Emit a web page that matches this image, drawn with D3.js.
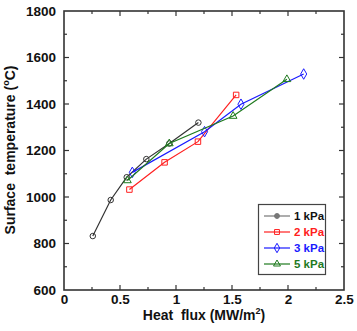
<!DOCTYPE html>
<html>
<head>
<meta charset="utf-8">
<script src="https://cdn.jsdelivr.net/npm/d3@7"></script>
<style>
body { margin: 0; background: #fff; }
text { font-family: "Liberation Sans", Arial, sans-serif; font-weight: bold; white-space: pre; }
</style>
</head>
<body>
<script>
// series data
var names = ["1 kPa", "2 kPa", "3 kPa", "5 kPa"];
var colors = ["#333333", "#ff2020", "#1a1aff", "#1f7a1f"];
var symbols = ["circle", "square", "diamond", "triangle"];
var flux1 = [0.257, 0.417, 0.56, 0.735, 0.94, 1.20];
var temp1 = [832, 987, 1085, 1163, 1230, 1320];
var flux2 = [0.584, 0.898, 1.196, 1.537];
var temp2 = [1032, 1149, 1238, 1439];
var flux3 = [0.61, 1.255, 1.58, 2.14];
var temp3 = [1106, 1281, 1399, 1529];
var flux5 = [0.566, 0.94, 1.51, 1.99];
var temp5 = [1071, 1230, 1348, 1506];
var xTicks = [0, 0.5, 1, 1.5, 2, 2.5];
var yTicks = [600, 800, 1000, 1200, 1400, 1600, 1800];

var fluxes = [flux1, flux2, flux3, flux5];
var temps = [temp1, temp2, temp3, temp5];

var width = 357, height = 331;
var margin = {top: 11, right: 13, bottom: 41, left: 64};

var svg = d3.select("body").append("svg")
	.attr("width", width)
	.attr("height", height);

var x = d3.scaleLinear().domain([0, 2.5]).range([margin.left, width - margin.right]);
var y = d3.scaleLinear().domain([600, 1800]).range([height - margin.bottom, margin.top]);

var axisColor = "#333";

//minor + major ticks, inward on all four sides
var xMinor = d3.range(0, 2.51, 0.25);
var yMinor = d3.range(600, 1801, 100);

function drawTicks() {
	var g = svg.append("g").attr("stroke", axisColor).attr("stroke-width", 1.2);
	xMinor.forEach(function(v, i) {
		var len = i % 2 == 0 ? 5 : 3;
		if (v == 0 || v == 2.5) return;
		g.append("line").attr("x1", x(v)).attr("x2", x(v))
			.attr("y1", y(600)).attr("y2", y(600) - len);
		g.append("line").attr("x1", x(v)).attr("x2", x(v))
			.attr("y1", y(1800)).attr("y2", y(1800) + len);
	});
	yMinor.forEach(function(v, i) {
		var len = i % 2 == 0 ? 5 : 3;
		if (v == 600 || v == 1800) return;
		g.append("line").attr("y1", y(v)).attr("y2", y(v))
			.attr("x1", x(0)).attr("x2", x(0) + len);
		g.append("line").attr("y1", y(v)).attr("y2", y(v))
			.attr("x1", x(2.5)).attr("x2", x(2.5) - len);
	});
}
drawTicks();

svg.append("rect")
	.attr("x", x(0)).attr("y", y(1800))
	.attr("width", x(2.5) - x(0)).attr("height", y(600) - y(1800))
	.attr("fill", "none").attr("stroke", axisColor).attr("stroke-width", 1.6);

//tick labels via axes (tick lines hidden)
var xAxis = d3.axisBottom(x).tickValues(xTicks).tickSize(0).tickPadding(4)
	.tickFormat(function(d) { return d; });
var yAxis = d3.axisLeft(y).tickValues(yTicks).tickSize(0).tickPadding(8)
	.tickFormat(d3.format("d"));

var gx = svg.append("g").attr("transform", "translate(0," + y(600) + ")").call(xAxis);
var gy = svg.append("g").attr("transform", "translate(" + x(0) + ",0)").call(yAxis);
[gx, gy].forEach(function(g) {
	g.select(".domain").remove();
	g.selectAll("text").attr("font-size", 13.5).attr("fill", "#111")
		.style("font-family", "'Liberation Sans', Arial, sans-serif").style("font-weight", "bold");
});

//axis titles: pieces laid out one after another so the superscript sits apart
function title(g, parts) {
	var pos = 0;
	parts.forEach(function(p) {
		var t = g.append("text").attr("x", pos).attr("y", p.dy || 0)
			.attr("font-size", p.size).attr("fill", "#111").text(p.text);
		pos += t.node().getComputedTextLength() + (p.gap || 0);
	});
	return pos;
}

var xg = svg.append("g");
var xw = title(xg, [
	{text: "Heat  flux (MW/m", size: 14},
	{text: "2", size: 9, dy: -6},
	{text: ")", size: 14}
]);
xg.attr("transform", "translate(" + (204 - xw / 2) + ",320)");

var yg = svg.append("g");
var yw = title(yg, [
	{text: "Surface  temperature (", size: 14},
	{text: "o", size: 9, dy: -6},
	{text: "C)", size: 14}
]);
yg.attr("transform", "translate(15,150) rotate(-90) translate(" + (-yw / 2) + ",0)");

//series
var symType = {circle: d3.symbolCircle, square: d3.symbolSquare, diamond: d3.symbolDiamond, triangle: d3.symbolTriangle};
var symSize = {circle: 24, square: 30, diamond: 32, triangle: 26};

var line = d3.line().x(function(d) { return x(d[0]); }).y(function(d) { return y(d[1]); });

names.forEach(function(n, i) {
	var pts = fluxes[i].map(function(f, j) { return [f, temps[i][j]]; });
	svg.append("path").datum(pts)
		.attr("d", line)
		.attr("fill", "none").attr("stroke", colors[i]).attr("stroke-width", 1.2);
	svg.selectAll(".pt" + i).data(pts).enter().append("path")
		.attr("class", "pt" + i)
		.attr("transform", function(d) { return "translate(" + x(d[0]) + "," + y(d[1]) + ")"; })
		.attr("d", d3.symbol().type(symType[symbols[i]]).size(symSize[symbols[i]]))
		.attr("fill", "none").attr("stroke", colors[i]).attr("stroke-width", 1);
});

//legend
var legend = svg.append("g");
legend.append("rect")
	.attr("x", 258.5).attr("y", 204.5).attr("width", 67).attr("height", 70)
	.attr("fill", "#fff").attr("stroke", "#444").attr("stroke-width", 1.2);
names.forEach(function(n, i) {
	var ly = 216 + i * 16;
	legend.append("line").attr("x1", 264).attr("x2", 290).attr("y1", ly).attr("y2", ly)
		.attr("stroke", i == 0 ? "#777" : colors[i]).attr("stroke-width", 1.2);
	legend.append("path")
		.attr("transform", "translate(277," + ly + ")")
		.attr("d", d3.symbol().type(symType[symbols[i]]).size(symSize[symbols[i]] * 0.8))
		.attr("fill", i == 0 ? "#777" : "none").attr("stroke", i == 0 ? "#777" : colors[i]);
	legend.append("text").attr("x", 294).attr("y", ly + 4)
		.attr("font-size", 11.5).attr("fill", i == 0 ? "#111" : colors[i]).text(n);
});
</script>
</body>
</html>
